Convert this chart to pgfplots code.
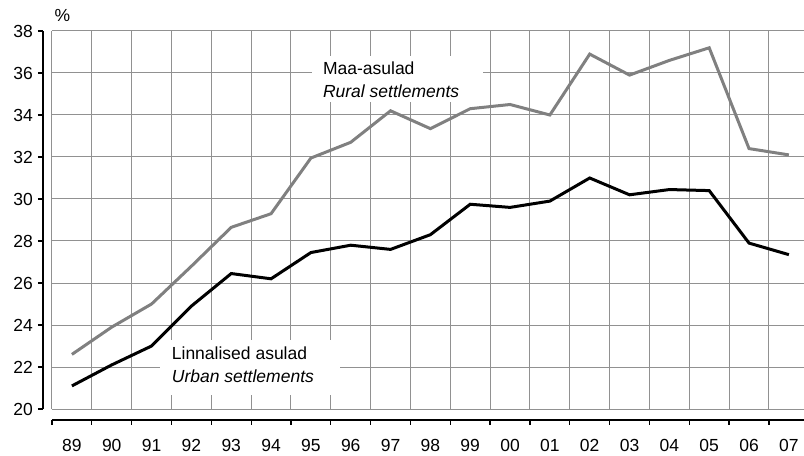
\documentclass[border=0pt]{standalone}
\usepackage{fontspec}
\setmainfont{Liberation Sans}
\usepackage{pgfplots}
\pgfplotsset{compat=1.18}
\definecolor{gridc}{RGB}{145,145,145}
\definecolor{ruralc}{RGB}{128,128,128}
\newcommand{\chfont}{\fontsize{17.5bp}{20bp}\selectfont}
\begin{document}
\begin{tikzpicture}
\begin{axis}[
  scale only axis, width=752bp, height=378bp,
  xmin=-0.5, xmax=18.38, ymin=20, ymax=38,
  clip=false,
  axis line style={draw=none},
  major tick length=0pt, minor tick length=0pt,
  xtick={0,...,18},
  xticklabels={89,90,91,92,93,94,95,96,97,98,99,00,01,02,03,04,05,06,07},
  minor xtick={-0.5,0.5,...,17.5},
  xminorgrids=true, xmajorgrids=false,
  ytick={20,22,...,38},
  yticklabels={20,22,24,26,28,30,32,34,36,38},
  ymajorgrids=true,
  grid style={gridc, line width=1bp},
  minor grid style={gridc, line width=1bp},
  tick label style={font=\chfont, inner sep=0pt},
  xticklabel style={anchor=north, yshift=-30bp},
  yticklabel style={anchor=east, xshift=-19bp},
]
\coordinate (SW) at (axis cs:-0.5,20);
\fill[white] (axis cs:6.03,34.6) rectangle (axis cs:10.32,36.8);
\fill[white] (axis cs:2.21,20.67) rectangle (axis cs:6.73,23.29);
\addplot[ruralc, line width=3bp] coordinates {
 (0,22.6) (1,23.9) (2,25.0) (3,26.8) (4,28.65) (5,29.3) (6,31.95) (7,32.7) (8,34.2) (9,33.35)
 (10,34.3) (11,34.5) (12,34.0) (13,36.9) (14,35.9) (15,36.6) (16,37.2) (17,32.4) (18,32.1)};
\addplot[black, line width=3bp] coordinates {
 (0,21.1) (1,22.1) (2,23.0) (3,24.9) (4,26.45) (5,26.2) (6,27.45) (7,27.8) (8,27.6) (9,28.3)
 (10,29.75) (11,29.6) (12,29.9) (13,31.0) (14,30.2) (15,30.45) (16,30.4) (17,27.9) (18,27.35)};
\node[anchor=base west, inner sep=0pt, font=\chfont] at (axis cs:6.30,35.94) {Maa-asulad};
\node[anchor=base west, inner sep=0pt, font=\chfont\itshape] at (axis cs:6.30,34.84) {Rural settlements};
\node[anchor=base west, inner sep=0pt, font=\chfont] at (axis cs:2.505,22.34) {Linnalised asulad};
\node[anchor=base west, inner sep=0pt, font=\chfont\itshape] at (axis cs:2.505,21.24) {Urban settlements};
\draw[line width=2.2bp] ([xshift=-9bp]axis cs:-0.5,20) -- ([xshift=-9bp]axis cs:-0.5,38);
\pgfplotsinvokeforeach{20,22,...,38}{\draw[line width=1.3bp] ([xshift=-14bp]axis cs:-0.5,#1) -- ([xshift=-9bp]axis cs:-0.5,#1);}
\draw[line width=2.2bp] ([yshift=-11bp]axis cs:-0.5,20) -- ([yshift=-11bp]axis cs:18.38,20);
\pgfplotsinvokeforeach{-0.5,0.5,...,17.5}{\draw[line width=1.3bp] ([yshift=-11bp]axis cs:#1,20) -- ([yshift=-16bp]axis cs:#1,20);}
\node[inner sep=0pt, font=\chfont] at ([xshift=10.5bp,yshift=16bp]axis cs:-0.5,38) {\%};
\end{axis}
\pgfresetboundingbox
\path[use as bounding box] ([xshift=-52bp,yshift=-47bp]SW) rectangle ([xshift=752bp,yshift=409bp]SW);
\end{tikzpicture}
\end{document}
